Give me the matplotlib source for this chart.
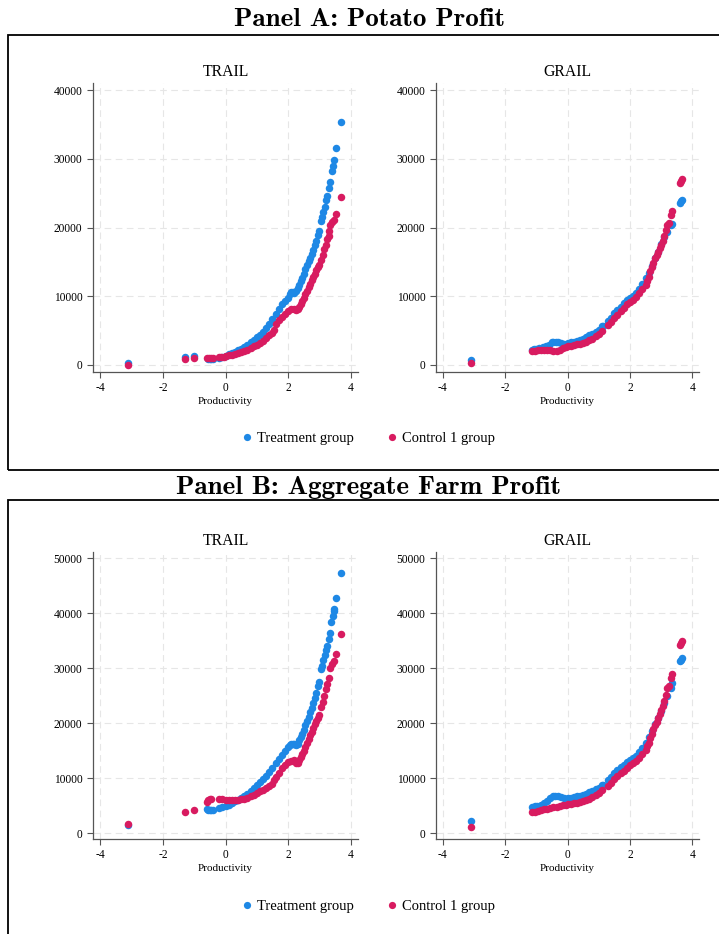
import matplotlib
matplotlib.use("Agg")
import matplotlib.pyplot as plt
from matplotlib.lines import Line2D
from matplotlib.patches import Rectangle

plt.rcParams["axes.unicode_minus"] = False

# ---------------- data ----------------
trail_a_treat_x = [-3.10, -1.29, -1.02, -0.55, -0.50, -0.45, -0.40, -0.22, -0.10,
                   0.0, 0.1, 0.2, 0.3, 0.4, 0.5, 0.6, 0.7, 0.8, 0.9, 1.0, 1.1, 1.2, 1.3, 1.4,
                   1.5, 1.6, 1.7, 1.8, 1.9, 2.0, 2.05, 2.1, 2.15, 2.2, 2.25, 2.3, 2.35, 2.4,
                   2.45, 2.5, 2.55, 2.6, 2.65, 2.7, 2.75, 2.8, 2.85, 2.9, 2.95, 3.0, 3.05,
                   3.08, 3.12, 3.17, 3.22, 3.25, 3.3, 3.35, 3.4, 3.43, 3.47, 3.53, 3.7]
trail_a_treat_y = [300, 1200, 1350, 900, 820, 800, 830, 950, 1100,
                   1350, 1550, 1750, 1950, 2150, 2350, 2650, 2950, 3300, 3650, 4000, 4400,
                   4850, 5400, 6000, 6700, 7400, 8100, 8800, 9300, 9800, 10300, 10600, 10600,
                   10500, 10700, 11200, 11700, 12200, 12700, 13300, 13900, 14500, 15100,
                   15600, 16100, 16700, 17400, 18100, 18900, 19500, 21000, 21500, 22200,
                   23000, 24000, 24600, 25700, 26600, 28200, 29000, 29800, 31500, 35400]
trail_a_ctrl_x = [-3.10, -1.29, -1.02, -0.58, -0.52, -0.46, -0.40, -0.22, -0.15, -0.05,
                  0.0, 0.1, 0.2, 0.3, 0.4, 0.5, 0.6, 0.7, 0.8, 0.9, 1.0, 1.1, 1.2, 1.3, 1.4,
                  1.5, 1.55, 1.6, 1.7, 1.8, 1.9, 2.0, 2.1, 2.2, 2.25, 2.3, 2.35, 2.4, 2.45,
                  2.5, 2.55, 2.6, 2.65, 2.7, 2.75, 2.8, 2.85, 2.9, 2.95, 3.0, 3.05, 3.1,
                  3.15, 3.2, 3.25, 3.29, 3.32, 3.35, 3.4, 3.45, 3.53, 3.7]
trail_a_ctrl_y = [0, 900, 1050, 1050, 1050, 1000, 1050, 1100, 1150, 1200,
                  1300, 1400, 1500, 1600, 1700, 1850, 2000, 2200, 2450, 2700, 2950, 3250,
                  3550, 3900, 4300, 4700, 5100, 6000, 6500, 7000, 7400, 7800, 8100, 8200,
                  8000, 8100, 8500, 8900, 9300, 9800, 10300, 10800, 11300, 11800, 12300,
                  12800, 13300, 13800, 14300, 14600, 15300, 16000, 16800, 17500, 18300,
                  18700, 19500, 20300, 20800, 21100, 22000, 24500]

grail_a_treat_x = [-3.10, -1.15, -1.08, -1.0, -0.9, -0.8, -0.7, -0.6, -0.5, -0.45, -0.38,
                   -0.3, -0.2, -0.1, 0.0, 0.1, 0.2, 0.3, 0.4, 0.5, 0.6, 0.7, 0.8, 0.9, 1.0,
                   1.1, 1.15, 1.3, 1.4, 1.5, 1.6, 1.7, 1.8, 1.9, 2.0, 2.1, 2.2, 2.3, 2.4,
                   2.5, 2.6, 2.7, 2.8, 2.9, 3.0, 3.1, 3.2, 3.3, 3.35, 3.6, 3.63, 3.65]
grail_a_treat_y = [700, 2250, 2300, 2350, 2500, 2650, 2750, 2900, 3300, 3400, 3350,
                   3300, 3150, 3100, 3200, 3300, 3400, 3550, 3700, 3850, 4050, 4300, 4550,
                   4850, 5150, 5600, 5700, 6400, 6900, 7500, 8000, 8500, 9000, 9400, 9800,
                   10100, 10500, 11100, 11800, 12600, 13400, 14400, 15500, 16500, 17600,
                   18600, 19300, 20300, 20500, 23500, 23800, 24000]
grail_a_ctrl_x = [-3.10, -1.13, -1.05, -0.95, -0.85, -0.75, -0.65, -0.55, -0.45, -0.35,
                  -0.25, -0.15, -0.05, 0.0, 0.1, 0.2, 0.3, 0.4, 0.5, 0.6, 0.7, 0.8, 0.9,
                  1.0, 1.1, 1.3, 1.4, 1.5, 1.6, 1.7, 1.8, 1.9, 2.0, 2.1, 2.2, 2.3, 2.4,
                  2.5, 2.55, 2.6, 2.65, 2.7, 2.75, 2.8, 2.85, 2.9, 2.95, 3.0, 3.05, 3.1,
                  3.15, 3.2, 3.25, 3.3, 3.35, 3.6, 3.63, 3.66]
grail_a_ctrl_y = [300, 2050, 2100, 2250, 2250, 2250, 2200, 2150, 2050, 2100,
                  2250, 2450, 2650, 2700, 2800, 2900, 3000, 3100, 3200, 3400, 3600, 3850,
                  4150, 4500, 4900, 5800, 6300, 6800, 7300, 7800, 8300, 8800, 9200, 9500,
                  9900, 10400, 11000, 11700, 12200, 12800, 13600, 14300, 14900, 15500,
                  16000, 16500, 17000, 17500, 18100, 18800, 19600, 20400, 20600, 21800,
                  22400, 26500, 26800, 27100]

trail_b_treat_x = [-3.10, -0.6, -0.55, -0.5, -0.45, -0.4, -0.22, -0.1,
                   0.0, 0.1, 0.2, 0.3, 0.4, 0.5, 0.6, 0.7, 0.8, 0.9, 1.0, 1.1, 1.2, 1.3,
                   1.4, 1.5, 1.6, 1.7, 1.8, 1.9, 2.0, 2.05, 2.1, 2.15, 2.2, 2.25, 2.3, 2.35,
                   2.4, 2.45, 2.5, 2.55, 2.6, 2.65, 2.7, 2.75, 2.8, 2.85, 2.9, 2.95, 3.0,
                   3.05, 3.08, 3.12, 3.17, 3.2, 3.25, 3.3, 3.33, 3.38, 3.42, 3.45, 3.47,
                   3.53, 3.7]
trail_b_treat_y = [1500, 4400, 4300, 4300, 4300, 4300, 4600, 4800,
                   5000, 5200, 5500, 5800, 6100, 6400, 6800, 7200, 7700, 8200, 8700, 9300,
                   9900, 10500, 11200, 11900, 12700, 13500, 14300, 15000, 15600, 16000,
                   16300, 16300, 16200, 16000, 16300, 16900, 17500, 18100, 18800, 19600,
                   20400, 21200, 22000, 22800, 23700, 24600, 25600, 26700, 27600, 29800,
                   30500, 31500, 32500, 33300, 34000, 35300, 36500, 38500, 39500, 40500,
                   40800, 42700, 47400]
trail_b_ctrl_x = [-3.10, -1.29, -1.02, -0.6, -0.55, -0.5, -0.45, -0.22, -0.1,
                  0.0, 0.1, 0.2, 0.3, 0.4, 0.5, 0.6, 0.7, 0.8, 0.9, 1.0, 1.1, 1.2, 1.3,
                  1.4, 1.5, 1.55, 1.6, 1.7, 1.8, 1.9, 2.0, 2.1, 2.2, 2.25, 2.3, 2.35, 2.4,
                  2.45, 2.5, 2.55, 2.6, 2.65, 2.7, 2.75, 2.8, 2.85, 2.9, 2.95, 3.0, 3.05,
                  3.1, 3.15, 3.2, 3.25, 3.3, 3.35, 3.4, 3.45, 3.52, 3.7]
trail_b_ctrl_y = [1600, 3900, 4300, 5600, 6000, 6200, 6300, 6200, 6150,
                  6100, 6050, 6000, 6000, 6100, 6200, 6300, 6500, 6700, 7000, 7300, 7600,
                  7900, 8200, 8600, 9000, 9600, 10300, 11000, 11800, 12400, 12900, 13200,
                  13300, 12800, 12700, 13300, 13900, 14400, 15000, 15700, 16400, 17100,
                  17800, 18500, 19200, 19800, 20400, 21000, 21500, 23000, 23800, 25000,
                  26200, 27200, 28200, 30000, 30800, 31300, 32600, 36300]

grail_b_treat_x = [-3.10, -1.13, -1.05, -0.97, -0.85, -0.75, -0.65, -0.55, -0.48, -0.4,
                   -0.32, -0.22, -0.1, 0.0, 0.1, 0.2, 0.3, 0.4, 0.5, 0.6, 0.7, 0.8, 0.9,
                   1.0, 1.1, 1.15, 1.3, 1.4, 1.5, 1.6, 1.7, 1.8, 1.9, 2.0, 2.1, 2.2, 2.3,
                   2.4, 2.5, 2.6, 2.7, 2.8, 2.9, 3.0, 3.1, 3.2, 3.3, 3.35, 3.6, 3.63, 3.65]
grail_b_treat_y = [2300, 4800, 4900, 4900, 5200, 5500, 5900, 6400, 6800, 6800,
                   6700, 6600, 6400, 6400, 6500, 6600, 6700, 6850, 7000, 7200, 7450, 7700,
                   8000, 8300, 8700, 8800, 9700, 10300, 10900, 11500, 12000, 12500, 13000,
                   13400, 13600, 14000, 14700, 15500, 16500, 17500, 18600, 19800, 21000,
                   22300, 23700, 25000, 26500, 27300, 31300, 31600, 31900]
grail_b_ctrl_x = [-3.10, -1.13, -1.05, -0.95, -0.85, -0.75, -0.65, -0.55, -0.45, -0.35,
                  -0.25, -0.15, -0.05, 0.0, 0.1, 0.2, 0.3, 0.4, 0.5, 0.6, 0.7, 0.8, 0.9,
                  1.0, 1.1, 1.3, 1.4, 1.5, 1.6, 1.7, 1.8, 1.9, 2.0, 2.1, 2.2, 2.3, 2.4,
                  2.5, 2.55, 2.6, 2.65, 2.7, 2.75, 2.8, 2.85, 2.9, 2.95, 3.0, 3.05, 3.1,
                  3.15, 3.2, 3.25, 3.3, 3.35, 3.6, 3.63, 3.66]
grail_b_ctrl_y = [1100, 3850, 3950, 4100, 4250, 4350, 4450, 4600, 4750, 4850,
                  4950, 5100, 5200, 5250, 5350, 5450, 5550, 5700, 5850, 6050, 6300, 6600,
                  6950, 7350, 7800, 8600, 9200, 9800, 10400, 10900, 11400, 11900, 12400,
                  12800, 13100, 13700, 14400, 15200, 15800, 16500, 17300, 18100, 18900,
                  19600, 20300, 21000, 21700, 22400, 23200, 24100, 25200, 26400, 26700,
                  28200, 29000, 34200, 34600, 35000]

panel_titles = ["Panel A: Potato Profit", "Panel B: Aggregate Farm Profit"]
sub_titles = ["TRAIL", "GRAIL"]
series_labels = ["Treatment group", "Control 1 group"]
xticks = [-4, -2, 0, 2, 4]
yticks_a = [0, 10000, 20000, 30000, 40000]
yticks_b = [0, 10000, 20000, 30000, 40000, 50000]

BLUE = "#1E88E5"
RED = "#D81B60"
SERIF = ["Liberation Serif", "DejaVu Serif"]

W, H = 719, 934
fig = plt.figure(figsize=(W / 100, H / 100), dpi=100)


def fx(px):
    return px / W


def fy(py):
    return 1 - py / H


def make_ax(left, right, top, bottom, title, xs_t, ys_t, xs_c, ys_c, yticks, ylim, xlim):
    ax = fig.add_axes([fx(left), fy(bottom), fx(right - left), (bottom - top) / H])
    ax.set_xlim(*xlim)
    ax.set_ylim(*ylim)
    ax.set_xticks(xticks)
    ax.set_yticks(yticks)
    ax.grid(True, color="#e6e6e6", linestyle=(0, (6, 4)), linewidth=0.8)
    ax.set_axisbelow(True)
    for s in ["top", "right"]:
        ax.spines[s].set_visible(False)
    for s in ["left", "bottom"]:
        ax.spines[s].set_color("#555555")
        ax.spines[s].set_linewidth(0.9)
    ax.tick_params(colors="#555555", length=4, width=0.8, labelcolor="black")
    for lab in ax.get_xticklabels() + ax.get_yticklabels():
        lab.set_fontfamily(SERIF)
        lab.set_fontsize(8.3)
    ax.plot(xs_t, ys_t, "o", color=BLUE, ms=5.4, mew=0, clip_on=False)
    ax.plot(xs_c, ys_c, "o", color=RED, ms=5.4, mew=0, clip_on=False)
    ax.set_title(title, fontfamily=SERIF, fontsize=11.3, pad=5)
    ax.set_xlabel("Productivity", fontfamily=SERIF, fontsize=8, labelpad=2)
    return ax


xl_t = (-4.23, 4.23)
xl_g = (-4.21, 4.21)
yl_a = (-1020, 41020)
yl_b = (-1040, 51150)

make_ax(93, 358, 83, 372, sub_titles[0], trail_a_treat_x, trail_a_treat_y,
        trail_a_ctrl_x, trail_a_ctrl_y, yticks_a, yl_a, xl_t)
make_ax(436, 699, 83, 372, sub_titles[1], grail_a_treat_x, grail_a_treat_y,
        grail_a_ctrl_x, grail_a_ctrl_y, yticks_a, yl_a, xl_g)
make_ax(93, 358, 552, 839, sub_titles[0], trail_b_treat_x, trail_b_treat_y,
        trail_b_ctrl_x, trail_b_ctrl_y, yticks_b, yl_b, xl_t)
make_ax(436, 699, 552, 839, sub_titles[1], grail_b_treat_x, grail_b_treat_y,
        grail_b_ctrl_x, grail_b_ctrl_y, yticks_b, yl_b, xl_g)

# panel boxes
fig.patches.append(Rectangle((fx(8), fy(470)), 1.0, (470 - 35) / H, transform=fig.transFigure,
                             fill=False, edgecolor="black", linewidth=1.3))
fig.patches.append(Rectangle((fx(8), fy(960)), 1.0, (960 - 500) / H, transform=fig.transFigure,
                             fill=False, edgecolor="black", linewidth=1.3))

# panel titles
fig.text(fx(369), fy(19), panel_titles[0], ha="center", va="center",
         fontfamily="cmb10", fontsize=19.5)
fig.text(fx(368), fy(487), panel_titles[1], ha="center", va="center",
         fontfamily="cmb10", fontsize=19.5)

# legends
handles = [Line2D([], [], marker="o", ls="", color=BLUE, ms=5.2, mew=0),
           Line2D([], [], marker="o", ls="", color=RED, ms=5.2, mew=0)]
for ly in (438, 906):
    fig.legend(handles, series_labels, loc="center", bbox_to_anchor=(fx(367), fy(ly)),
               ncol=2, frameon=False, prop={"family": SERIF, "size": 10.5},
               handletextpad=0.1, columnspacing=2.0, handlelength=1.2)

fig.savefig("out.png", dpi=100)
